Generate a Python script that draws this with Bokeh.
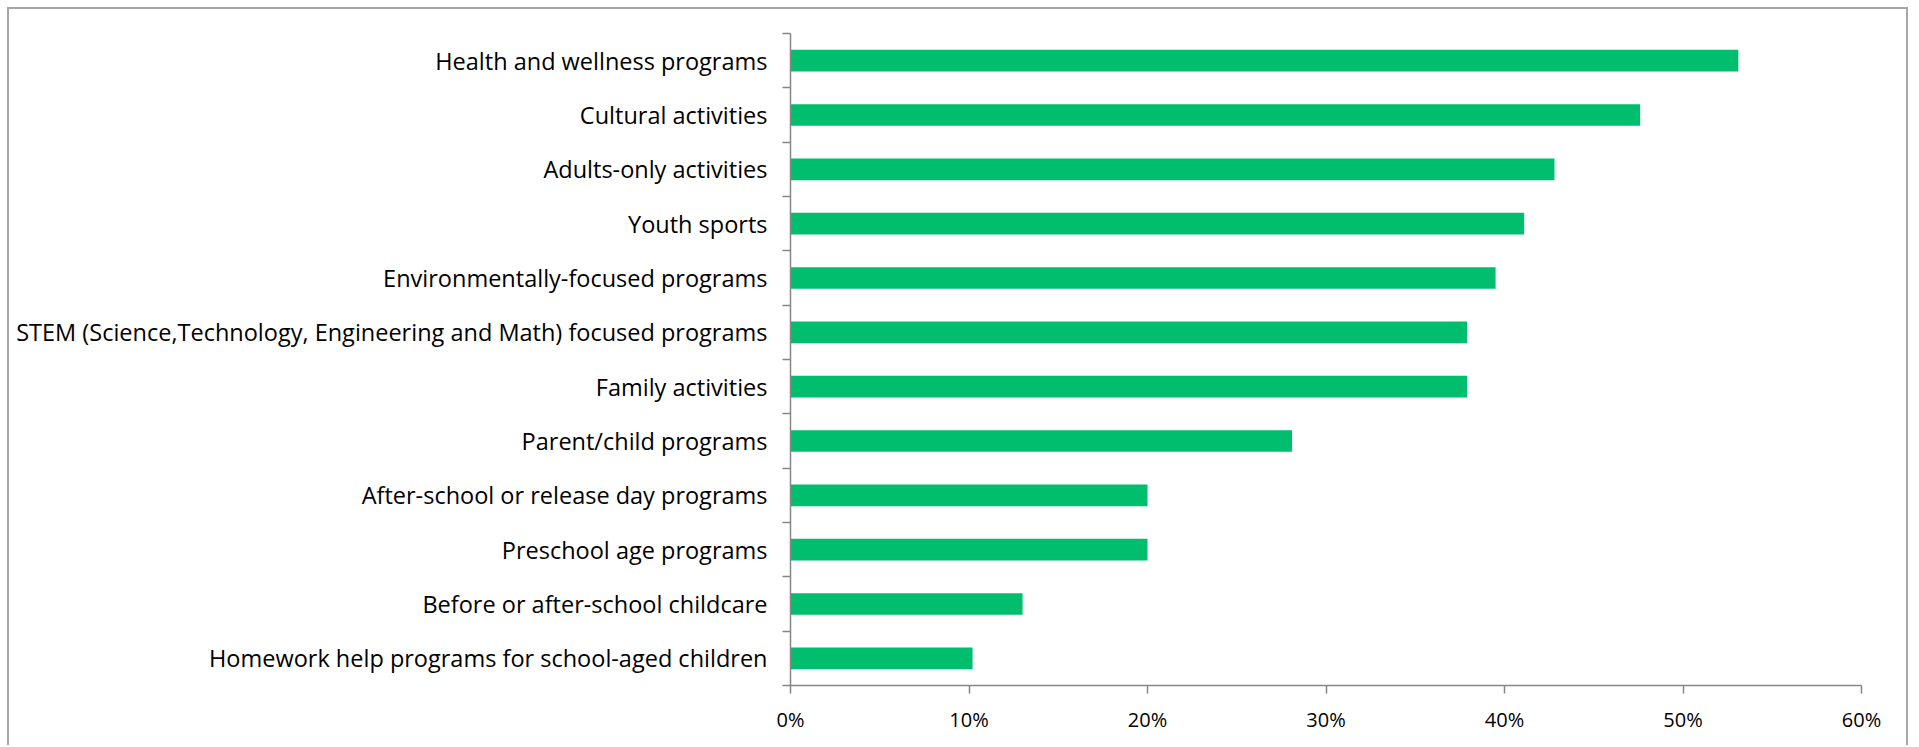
from bokeh.plotting import figure
from bokeh.models import ColumnDataSource, FixedTicker, PrintfTickFormatter, Range1d
from bokeh.embed import file_html
from bokeh.resources import INLINE

# Categories listed top to bottom
categories = [
    "Health and wellness programs",
    "Cultural activities",
    "Adults-only activities",
    "Youth sports",
    "Environmentally-focused programs",
    "STEM (Science,Technology, Engineering and Math) focused programs",
    "Family activities",
    "Parent/child programs",
    "After-school or release day programs",
    "Preschool age programs",
    "Before or after-school childcare",
    "Homework help programs for school-aged children",
]
values = [53.1, 47.6, 42.8, 41.1, 39.5, 37.9, 37.9, 28.1, 20.0, 20.0, 13.0, 10.2]
x_ticks = [0, 10, 20, 30, 40, 50, 60]

n = len(categories)
ypos = [n - 1 - i + 0.5 for i in range(n)]
src = ColumnDataSource(dict(y=ypos, v=values, cat=categories))

FONT = "Open Sans"

p = figure(width=1901, height=738, output_backend="svg", toolbar_location=None,
           x_range=Range1d(0, 60), y_range=Range1d(0, n),
           min_border_left=781, min_border_right=49, min_border_top=24, min_border_bottom=62)
p.styles = {
    "margin-left": "7px",
    "margin-top": "7px",
    "border-left": "2px solid #a6a6a6",
    "border-top": "2px solid #a6a6a6",
    "border-right": "2px solid #a6a6a6",
}
p.background_fill_color = "white"
p.border_fill_color = "white"
p.outline_line_color = None
p.xgrid.visible = False
p.ygrid.visible = False

p.hbar(y="y", left=0, right="v", height=0.4, source=src, fill_color="#00BE6E", line_color=None)

# x axis
xa = p.xaxis[0]
xa.ticker = FixedTicker(ticks=x_ticks, minor_ticks=[])
xa.formatter = PrintfTickFormatter(format="%d%%")
xa.axis_line_color = "#868686"
xa.axis_line_width = 1.5
xa.major_tick_line_color = "#868686"
xa.major_tick_line_width = 1.5
xa.major_tick_out = 8
xa.major_tick_in = 0
xa.minor_tick_line_color = None
xa.major_label_text_font = FONT
xa.major_label_text_font_size = "20px"
xa.major_label_text_color = "#000000"
xa.major_label_standoff = 12

# y axis: labels at centres, ticks at category boundaries
ya = p.yaxis[0]
ya.ticker = FixedTicker(ticks=ypos, minor_ticks=list(range(n + 1)))
ya.major_label_overrides = {y: c for y, c in zip(ypos, categories)}
ya.axis_line_color = "#868686"
ya.axis_line_width = 1.5
ya.major_tick_line_color = None
ya.major_tick_out = 0
ya.major_tick_in = 0
ya.minor_tick_line_color = "#868686"
ya.minor_tick_line_width = 1.5
ya.minor_tick_out = 8
ya.minor_tick_in = 0
ya.major_label_text_font = FONT
ya.major_label_text_font_size = "23.5px"
ya.major_label_text_color = "#000000"
ya.major_label_standoff = 15

open("out.html", "w").write(file_html(p, INLINE))
